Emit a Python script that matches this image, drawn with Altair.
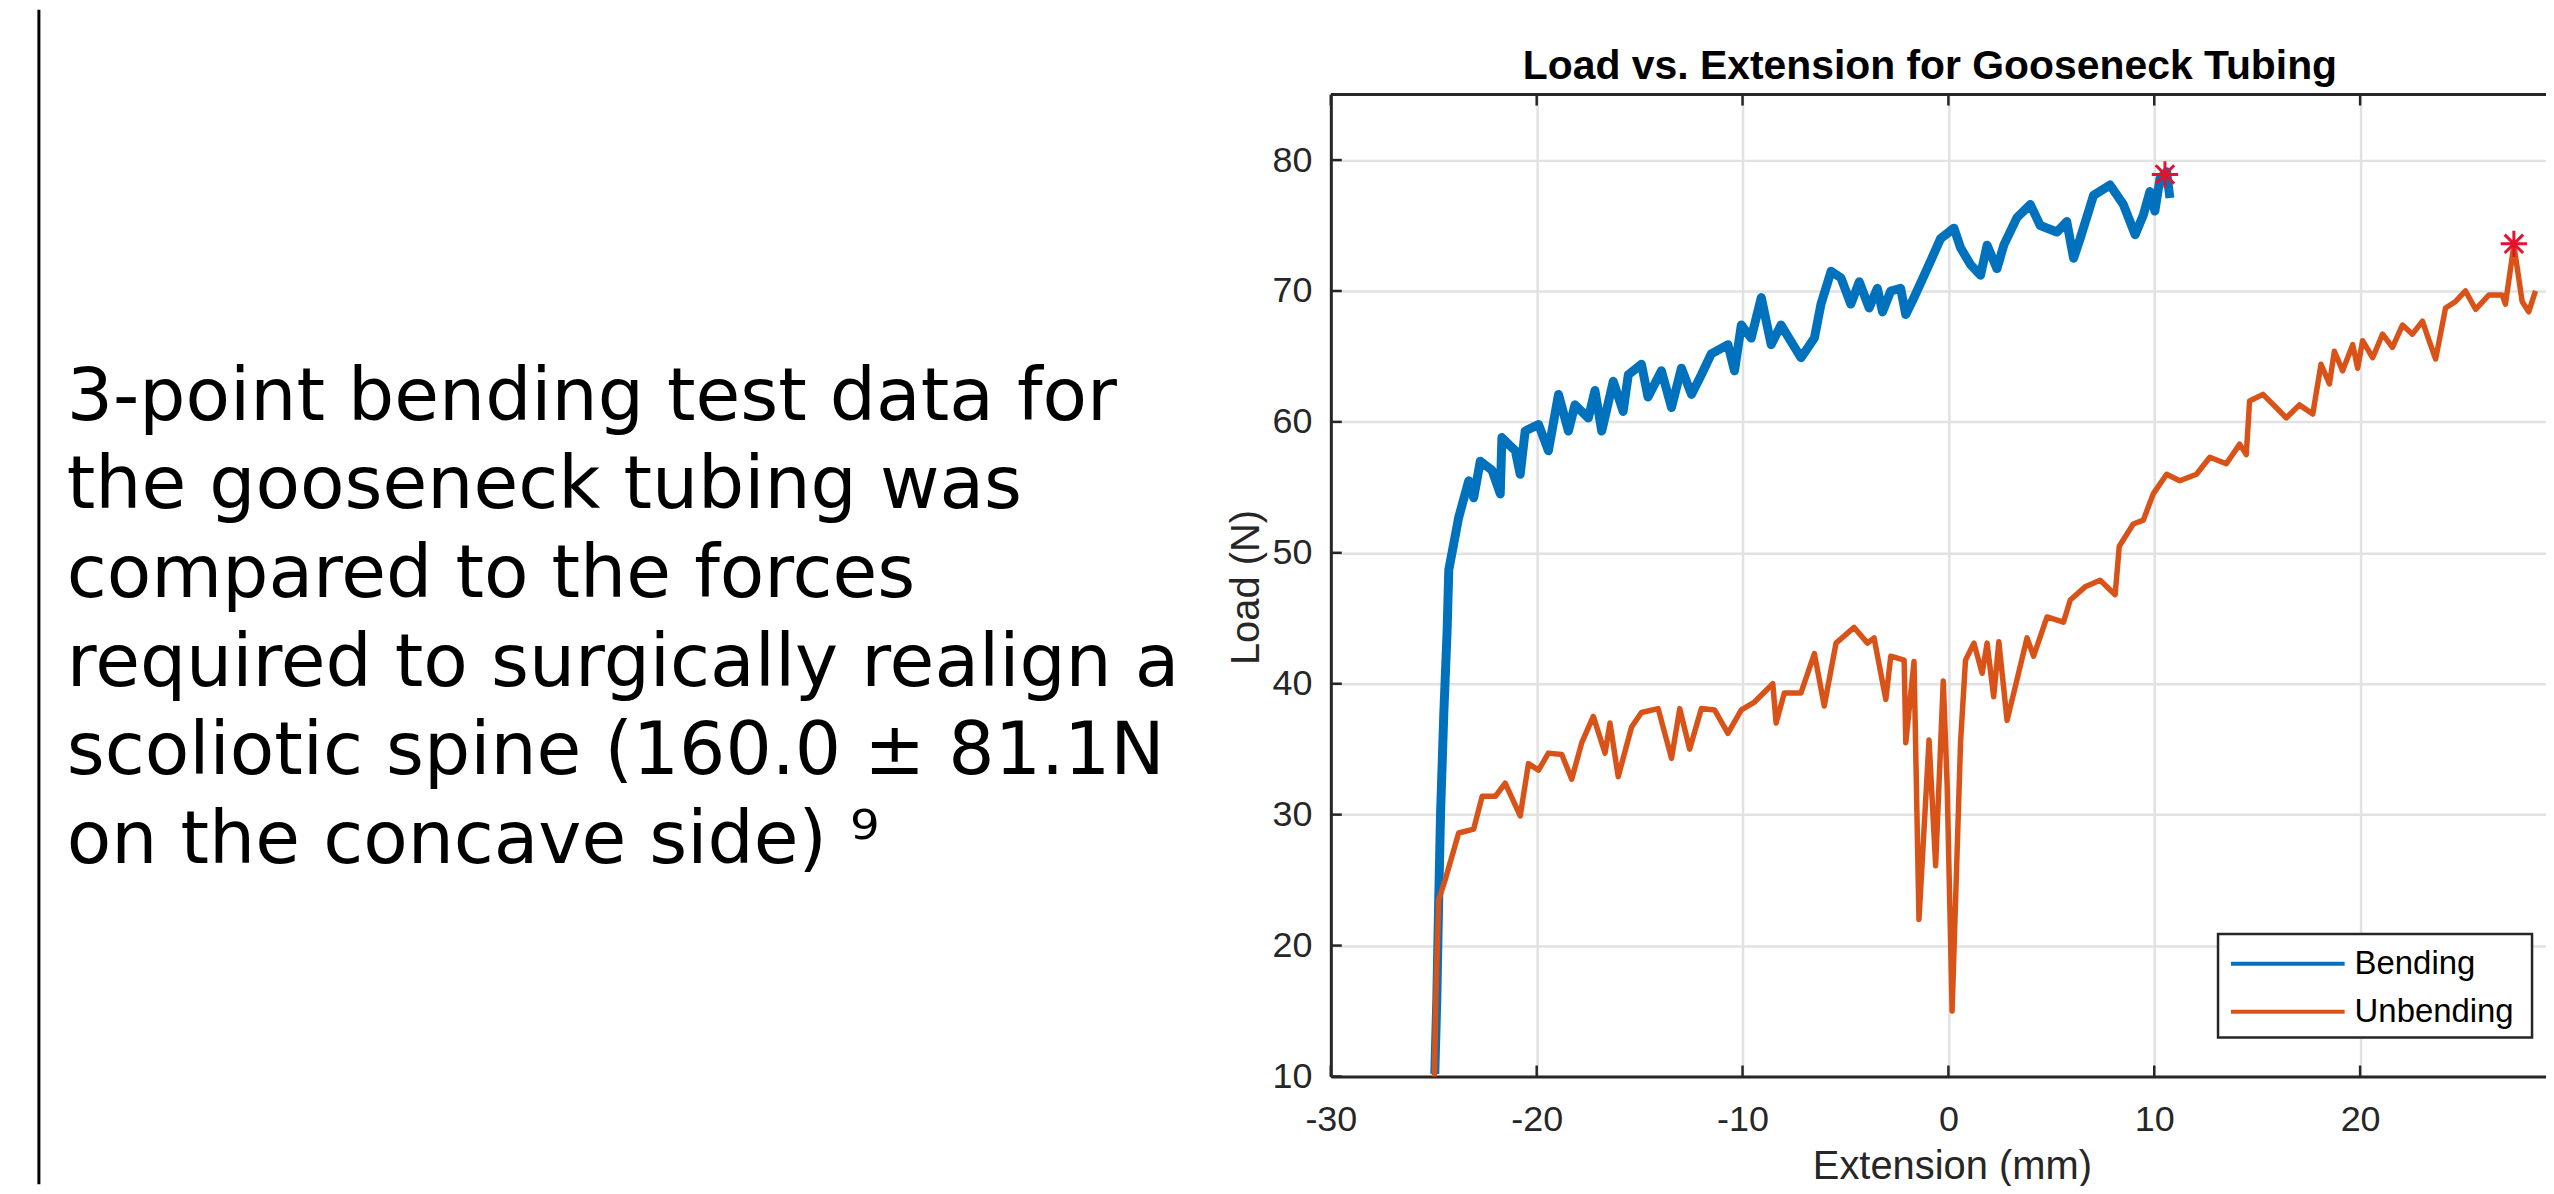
import altair as alt
import pandas as pd

# ---------------- data ----------------
series_names = ["Bending", "Unbending"]
series_colors = ["#0072BD", "#D95319"]

bending_x = [-24.95, -24.85, -24.76, -24.67, -24.51, -24.35, -24.27, -23.79, -23.3, -23.06,
             -22.74, -22.17, -21.77, -21.69, -21.04, -20.8, -20.56, -19.91, -19.43, -18.94,
             -18.46, -18.14, -17.49, -17.17, -16.84, -16.28, -15.8, -15.55, -14.91, -14.59,
             -13.94, -13.45, -12.97, -12.48, -12.0, -11.52, -10.71, -10.39, -10.06, -9.58,
             -9.09, -8.61, -8.13, -7.16, -6.51, -6.19, -5.7, -5.22, -4.74, -4.33,
             -3.85, -3.45, -3.2, -2.8, -2.32, -2.07, -1.67, -1.03, -0.38, 0.27,
             0.59, 1.08, 1.56, 1.88, 2.36, 2.69, 3.33, 3.98, 4.46, 5.27,
             5.75, 6.08, 6.4, 7.05, 7.85, 8.5, 9.07, 9.47, 9.79, 10.03,
             10.28, 10.6, 10.76]
bending_y = [10.2, 16.0, 23.5, 30.1, 37.8, 44.1, 48.7, 52.7, 55.5, 54.2,
             57.0, 56.3, 54.5, 58.8, 57.8, 56.0, 59.3, 59.8, 57.8, 62.1,
             59.3, 61.3, 60.3, 62.4, 59.3, 63.1, 60.8, 63.6, 64.4, 61.9,
             63.9, 61.1, 64.1, 62.1, 63.6, 65.2, 65.9, 63.9, 67.4, 66.4,
             69.5, 65.9, 67.4, 64.9, 66.4, 69.0, 71.5, 71.0, 69.0, 70.7,
             68.7, 70.2, 68.4, 70.0, 70.2, 68.2, 69.5, 71.7, 74.0, 74.8,
             73.3, 72.0, 71.2, 73.5, 71.7, 73.5, 75.6, 76.6, 75.0, 74.5,
             75.3, 72.5, 74.0, 77.3, 78.1, 76.6, 74.3, 75.8, 77.6, 76.1,
             78.6, 79.1, 77.1]

unbending_x = [-24.97, -24.9, -24.76, -24.43, -23.79, -23.06, -22.65, -22.01, -21.53, -20.8,
               -20.4, -19.91, -19.43, -18.78, -18.3, -17.81, -17.25, -16.68, -16.44, -16.04,
               -15.39, -14.91, -14.1, -13.45, -13.05, -12.57, -12.0, -11.36, -10.71, -10.06,
               -9.42, -8.53, -8.37, -7.97, -7.16, -6.51, -6.03, -5.46, -4.58, -3.93,
               -3.61, -3.04, -2.8, -2.15, -2.07, -1.67, -1.43, -0.94, -0.62, -0.25,
               -0.06, 0.18, 0.59, 0.83, 1.24, 1.64, 1.88, 2.2, 2.45, 2.85,
               3.33, 3.82, 4.14, 4.79, 5.59, 5.92, 6.64, 7.37, 8.1, 8.3,
               8.98, 9.47, 9.95, 10.6, 11.24, 12.05, 12.7, 13.5, 14.15, 14.47,
               14.63, 15.28, 15.92, 16.41, 17.05, 17.7, 18.1, 18.51, 18.75, 19.15,
               19.64, 19.88, 20.12, 20.61, 21.09, 21.57, 22.06, 22.54, 23.03, 23.35,
               23.67, 24.15, 24.64, 25.12, 25.61, 26.26, 26.9, 27.06, 27.47, 27.87,
               28.19, 28.52]
unbending_y = [10.0, 16.0, 23.5, 25.1, 28.6, 28.9, 31.4, 31.4, 32.4, 29.9,
               33.9, 33.4, 34.7, 34.6, 32.7, 35.5, 37.5, 34.7, 37.0, 32.9,
               36.7, 37.8, 38.1, 34.3, 38.1, 35.0, 38.1, 38.0, 36.2, 38.0,
               38.6, 40.0, 37.0, 39.3, 39.3, 42.3, 38.3, 43.1, 44.3, 43.1,
               43.5, 38.8, 42.1, 41.8, 35.5, 41.7, 22.0, 35.7, 26.1, 40.2,
               32.2, 15.0, 35.5, 41.8, 43.1, 40.8, 43.1, 39.0, 43.2, 37.2,
               40.3, 43.5, 42.1, 45.1, 44.7, 46.4, 47.4, 47.9, 46.8, 50.5,
               52.2, 52.5, 54.5, 56.0, 55.5, 56.0, 57.3, 56.8, 58.3, 57.5,
               61.6, 62.1, 61.1, 60.3, 61.3, 60.6, 64.4, 62.9, 65.4, 63.9,
               65.9, 64.1, 66.2, 64.9, 66.7, 65.7, 67.4, 66.7, 67.7, 66.2,
               64.8, 68.7, 69.2, 70.0, 68.6, 69.7, 69.7, 69.0, 73.5, 69.2,
               68.4, 70.0]

peak_x = [10.52, 27.47]
peak_y = [78.9, 73.6]

x_ticks = [-30, -20, -10, 0, 10, 20, 30]
y_ticks = [10, 20, 30, 40, 50, 60, 70, 80]

chart_title = "Load vs. Extension for Gooseneck Tubing"
x_title = "Extension (mm)"
y_title = "Load (N)"

text_lines = [
    "3-point bending test data for",
    "the gooseneck tubing was",
    "compared to the forces",
    "required to surgically realign a",
    "scoliotic spine (160.0 \u00b1 81.1N",
    "on the concave side) \u2079",
]

# ---------------- layout (pixels) ----------------
W, H = 1219, 985            # plot area (right edge cut by the page edge, as in the reference)
PAD_L, PAD_T, PAD_B = 1327, 85, 108
X_DOMAIN = [-30, 29.03]
Y_DOMAIN = [10, 85]
AX = "#262626"
AXFONT = "Liberation Sans"

n_b, n_u = len(bending_x), len(unbending_x)
df = pd.DataFrame({
    "x": bending_x + unbending_x,
    "y": bending_y + unbending_y,
    "series": [series_names[0]] * n_b + [series_names[1]] * n_u,
    "i": list(range(n_b)) + list(range(n_u)),
})
peaks = pd.DataFrame({"x": peak_x, "y": peak_y})
xt = pd.DataFrame({"t": [t for t in x_ticks if X_DOMAIN[0] <= t <= X_DOMAIN[1]]})
yt = pd.DataFrame({"t": y_ticks})
one = pd.DataFrame({"a": [0]})

xs = alt.Scale(domain=X_DOMAIN, nice=False, zero=False)
ys = alt.Scale(domain=Y_DOMAIN, nice=False, zero=False)

x_axis = alt.Axis(
    values=[t for t in x_ticks if X_DOMAIN[0] <= t <= X_DOMAIN[1]],
    labelExpr="'' + datum.value",
    title=x_title, titleX=623, titleY=90, titleAlign="center", titleBaseline="middle",
    titleFont=AXFONT, titleFontSize=40, titleFontWeight="normal", titleColor=AX,
    labelFont=AXFONT, labelFontSize=36, labelColor=AX, labelPadding=26,
    labelFlush=False, labelOverlap=False,
    ticks=False, tickSize=0,
    domainColor=AX, domainWidth=3,
    grid=True, gridColor="#E2E2E2", gridWidth=2.5,
)
y_axis = alt.Axis(
    values=y_ticks,
    labelExpr="'' + datum.value",
    title=y_title, titleX=-85, titleY=494, titleAlign="center", titleBaseline="middle",
    titleFont=AXFONT, titleFontSize=40, titleFontWeight="normal", titleColor=AX,
    labelFont=AXFONT, labelFontSize=36, labelColor=AX, labelPadding=19,
    labelFlush=False, labelOverlap=False,
    ticks=False, tickSize=0,
    domainColor=AX, domainWidth=3,
    grid=True, gridColor="#E2E2E2", gridWidth=2.5,
)

X = lambda f: alt.X(f, scale=xs, axis=x_axis)
Y = lambda f: alt.Y(f, scale=ys, axis=y_axis)

lines = alt.Chart(df).mark_line(strokeJoin="round").encode(
    x=X("x:Q"), y=Y("y:Q"),
    color=alt.Color("series:N", scale=alt.Scale(domain=series_names, range=series_colors), legend=None),
    strokeWidth=alt.StrokeWidth("series:N", scale=alt.Scale(domain=series_names, range=[9, 5.5]), legend=None),
    order=alt.Order("i:Q"),
)

ASTERISK = "M-1,0L1,0M0,-1L0,1M-0.7,-0.7L0.7,0.7M-0.7,0.7L0.7,-0.7"
stars = alt.Chart(peaks).mark_point(shape=ASTERISK, filled=False, color="#E8112D",
                                    strokeWidth=3, size=700, opacity=1).encode(
    x=X("x:Q"), y=Y("y:Q"))

# inward ticks (MATLAB style) and the top border
tick_b = alt.Chart(xt).mark_rule(color=AX, strokeWidth=2.5).encode(
    x=X("t:Q"), y=alt.value(H), y2=alt.value(H - 11))
tick_t = alt.Chart(xt).mark_rule(color=AX, strokeWidth=2.5).encode(
    x=X("t:Q"), y=alt.value(0), y2=alt.value(11))
tick_l = alt.Chart(yt).mark_rule(color=AX, strokeWidth=2.5).encode(
    y=Y("t:Q"), x=alt.value(0), x2=alt.value(11))
top_border = alt.Chart(one).mark_rule(color=AX, strokeWidth=3).encode(
    x=alt.value(0), x2=alt.value(W + 5), y=alt.value(0))

title = alt.Chart(one).mark_text(font=AXFONT, fontSize=41, fontWeight="bold", color="#000000",
                                 align="center", baseline="alphabetic").encode(
    x=alt.value(601), y=alt.value(-16), text=alt.value(chart_title))

# legend box (MATLAB legend, lower right inside the axes)
LX0, LX1, LY0, LY1 = 890, 1205, 842, 946
legend_box = alt.Chart(one).mark_rect(fill="white", stroke=AX, strokeWidth=2.5).encode(
    x=alt.value(LX0), x2=alt.value(LX1), y=alt.value(LY0), y2=alt.value(LY1))
legend_layers = [legend_box]
for k, (name, col) in enumerate(zip(series_names, series_colors)):
    ly = 872 + 48 * k
    legend_layers.append(alt.Chart(one).mark_rule(color=col, strokeWidth=4).encode(
        x=alt.value(903), x2=alt.value(1017), y=alt.value(ly)))
    legend_layers.append(alt.Chart(one).mark_text(font=AXFONT, fontSize=33, color="#000000",
                                                  align="left", baseline="middle").encode(
        x=alt.value(1027), y=alt.value(ly), text=alt.value(name)))

# slide text on the left and the slide's vertical rule
side_text = alt.Chart(one).mark_text(font="DejaVu Sans", fontSize=73, color="#000000",
                                     align="left", baseline="alphabetic",
                                     lineBreak="\n", lineHeight=89).encode(
    x=alt.value(-1268), y=alt.value(326), text=alt.value("\n".join(text_lines)))
side_rule = alt.Chart(one).mark_rule(color="#000000", strokeWidth=3).encode(
    x=alt.value(-1296), y=alt.value(-PAD_T), y2=alt.value(H + PAD_B))

chart = alt.layer(
    lines, stars, tick_b, tick_t, tick_l, top_border, title,
    *legend_layers, side_text, side_rule,
).properties(
    width=W, height=H,
    autosize=alt.AutoSizeParams(type="none"),
    padding={"left": PAD_L, "top": PAD_T, "right": 0, "bottom": PAD_B},
    background="white",
).configure_view(stroke=None)

chart.save("out.html", embed_options={"renderer": "svg", "actions": False})
